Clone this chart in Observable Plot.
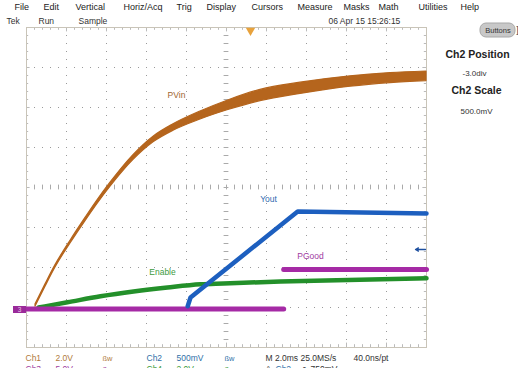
<!DOCTYPE html>
<html><head><meta charset="utf-8">
<script src="https://cdn.jsdelivr.net/npm/d3@7"></script>
<script src="https://cdn.jsdelivr.net/npm/@observablehq/plot@0.6"></script>
<style>
html,body{margin:0;padding:0;background:#fff;overflow:hidden;}
#chart{width:518px;height:368px;overflow:hidden;}
</style></head><body><div id="chart"></div>
<script>
// ---- Trace data, in screen divisions (x: 0..10 div at 2.0 ms/div, y: 0..8 div) ----
// PVin (Ch1) noisy band: lower / upper envelope
const pvinX  = [0.225, 0.475, 0.725, 1.1, 1.475, 1.775, 2.1, 2.675, 3.175, 3.675, 4.35, 5.025, 5.85, 6.85, 8.1, 9.1, 10];
const pvinLo = [1.02, 1.52, 2.00, 2.60, 3.16, 3.59, 4.02, 4.69, 5.13, 5.42, 5.70, 5.93, 6.16, 6.34, 6.52, 6.61, 6.66];
const pvinHi = [1.08, 1.58, 2.06, 2.67, 3.24, 3.68, 4.12, 4.81, 5.27, 5.58, 5.90, 6.17, 6.44, 6.62, 6.78, 6.86, 6.90];
// Enable (Ch4)
const enableX = [0.3, 1.025, 1.85, 2.675, 3.525, 4.35, 4.925, 6.35, 10];
const enableY = [1.00, 1.13, 1.28, 1.40, 1.50, 1.58, 1.60, 1.65, 1.73];
// Vout (Ch2)
const youtX = [4.03, 4.1, 6.78, 10];
const youtY = [1.03, 1.25, 3.40, 3.35];
// PGood (Ch3): two levels
const pgoodX   = [0, 6.43, 6.43, 10];
const pgoodY   = [0.96, 0.96, 1.95, 1.95];
const pgoodSeg = ["low", "low", "high", "high"];

// Trace labels
const traceNames  = ["PVin", "Enable", "Yout", "PGood"];
const traceLabelX = [3.75, 3.4, 6.05, 7.1];
const traceLabelY = [6.3, 1.88, 3.7, 2.28];
const traceColors = ["#b5651d", "#23902a", "#1d5fbf", "#a52aa5"];
const labelColors = ["#a06530", "#3c9a3c", "#2f6bb0", "#a03aa0"];

// Screen chrome text
const menuLabels = ["File","Edit","Vertical","Horiz/Acq","Trig","Display","Cursors","Measure","Masks","Math","Utilities","Help"];
const menuPx     = [14, 43, 75, 123, 176, 206, 251, 297, 343, 378, 418, 460];
const statusRow1 = ["Ch1","2.0V","\u00dfw","Ch2","500mV","\u00dfw","M 2.0ms 25.0MS/s","40.0ns/pt"];
const statusRow2 = ["Ch3","5.0V","\u00dfw","Ch4","2.0V","\u00dfw","A","Ch2","\u2197","750mV"];

// ---- layout helpers (pixel -> division) ----
const X = px => (px - 26) / 40;
const Y = py => (347 - py) / 40;

const pvin = pvinX.map((x, i) => ({x, lo: pvinLo[i], hi: pvinHi[i]}));
const enable = enableX.map((x, i) => ({x, y: enableY[i]}));
const yout = youtX.map((x, i) => ({x, y: youtY[i]}));
const pgood = pgoodX.map((x, i) => ({x, y: pgoodY[i], s: pgoodSeg[i]}));
const labels = traceNames.map((t, i) => ({t, x: traceLabelX[i], y: traceLabelY[i], c: labelColors[i]}));

const leftTexts = [
  ...menuLabels.map((t, i) => ({t, px: menuPx[i], py: 7, size: 9, fill: "#222"})),
  {t: "Tek", px: 6, py: 21, size: 8.5, fill: "#333"},
  {t: "Run", px: 38, py: 21, size: 8.5, fill: "#333"},
  {t: "Sample", px: 78, py: 21, size: 8.5, fill: "#333"},
  {t: "06 Apr 15 15:26:15", px: 328, py: 21, size: 8.5, fill: "#333"},
  {t: statusRow1[0], px: 25, py: 358, size: 8.5, fill: "#b07a3a"},
  {t: statusRow1[1], px: 55, py: 358, size: 8.5, fill: "#b07a3a"},
  {t: statusRow1[2], px: 102, py: 358, size: 7.5, fill: "#b07a3a"},
  {t: statusRow1[3], px: 146, py: 358, size: 8.5, fill: "#2f70a8"},
  {t: statusRow1[4], px: 176, py: 358, size: 8.5, fill: "#2f70a8"},
  {t: statusRow1[5], px: 224, py: 358, size: 7.5, fill: "#2f70a8"},
  {t: statusRow1[6], px: 265, py: 358, size: 8.5, fill: "#333"},
  {t: statusRow1[7], px: 353, py: 358, size: 8.5, fill: "#333"},
  {t: statusRow2[0], px: 25, py: 369, size: 8.5, fill: "#a040a0"},
  {t: statusRow2[1], px: 55, py: 369, size: 8.5, fill: "#a040a0"},
  {t: statusRow2[2], px: 102, py: 369, size: 7.5, fill: "#a040a0"},
  {t: statusRow2[3], px: 146, py: 369, size: 8.5, fill: "#3a9a3a"},
  {t: statusRow2[4], px: 176, py: 369, size: 8.5, fill: "#3a9a3a"},
  {t: statusRow2[5], px: 224, py: 369, size: 7.5, fill: "#3a9a3a"},
  {t: statusRow2[6], px: 265, py: 369, size: 8.5, fill: "#333"},
  {t: statusRow2[7], px: 275, py: 369, size: 8.5, fill: "#2f70a8"},
  {t: statusRow2[8], px: 299, py: 369, size: 8, fill: "#333"},
  {t: statusRow2[9], px: 310, py: 369, size: 8.5, fill: "#333"}
];
const panelTitles = [
  {t: "Ch2 Position", px: 477, py: 54},
  {t: "Ch2 Scale", px: 476, py: 90}
];
const panelValues = [
  {t: "-3.0div", px: 474, py: 73},
  {t: "500.0mV", px: 476, py: 111}
];

const majorX = d3.range(1, 10), majorY = d3.range(1, 8);
const minorX = d3.range(0, 10.001, 0.2), minorY = d3.range(0, 8.001, 0.2);
const isMajor = d => Math.abs(d - Math.round(d)) < 1e-6;
const gridColor = "#9a9a9a";

const plot = Plot.plot({
  width: 518, height: 368,
  marginLeft: 26, marginRight: 92, marginTop: 27, marginBottom: 21,
  x: {domain: [0, 10], axis: null},
  y: {domain: [0, 8], axis: null},
  style: {fontFamily: "'Liberation Sans', Arial, sans-serif", background: "white", overflow: "hidden"},
  marks: [
    // graticule
    Plot.ruleX(majorX, {x: d => d, stroke: gridColor, strokeDasharray: "1,7"}),
    Plot.ruleY(majorY, {y: d => d, stroke: gridColor, strokeDasharray: "1,7"}),
    Plot.ruleX(minorX, {x: d => d, y1: () => 4 - 0.06, y2: () => 4 + 0.06, stroke: "#aaa"}),
    Plot.ruleY(minorY, {y: d => d, x1: () => 5 - 0.06, x2: () => 5 + 0.06, stroke: "#aaa"}),
    Plot.ruleX(minorX, {x: d => d, y1: () => 8, y2: d => 8 - (isMajor(d) ? 0.11 : 0.07), stroke: "#bbb"}),
    Plot.ruleX(minorX, {x: d => d, y1: () => 0, y2: d => (isMajor(d) ? 0.11 : 0.07), stroke: "#bbb"}),
    Plot.ruleY(minorY, {y: d => d, x1: () => 0, x2: d => (isMajor(d) ? 0.09 : 0.055), stroke: "#bbb"}),
    Plot.ruleY(minorY, {y: d => d, x1: () => 10, x2: d => 10 - (isMajor(d) ? 0.09 : 0.055), stroke: "#bbb"}),
    Plot.frame({stroke: "#c9c4b8"}),
    // traces
    Plot.areaY(pvin, {x: "x", y1: "lo", y2: "hi", curve: "monotone-x", fill: traceColors[0], stroke: traceColors[0], strokeWidth: 1.2}),
    Plot.line(enable, {x: "x", y: "y", curve: "monotone-x", stroke: traceColors[1], strokeWidth: 4.5}),
    Plot.line(pgood, {x: "x", y: "y", z: "s", stroke: traceColors[3], strokeWidth: 5}),
    Plot.line(yout, {x: "x", y: "y", stroke: traceColors[2], strokeWidth: 4.5}),
    // trace labels
    Plot.text(labels, {x: "x", y: "y", text: "t", fill: "c", fontSize: 8.5}),
    // markers: trigger position, trigger level, channel ground marker
    Plot.dot([5.6], {x: d => d, y: () => 8, dy: 3, symbol: "triangle", rotate: 180, r: 3.5, fill: "#e8a23c"}),
    Plot.arrow([0], {x1: () => X(425), y1: () => Y(249), x2: () => X(415), y2: () => Y(249), stroke: "#1d4f9f", strokeWidth: 1.3, headLength: 5, insetEnd: 0}),
    Plot.rect([0], {x1: () => X(13), x2: () => 0, y1: () => Y(306), y2: () => Y(313), fill: "#9a2a9a"}),
    Plot.text(["3"], {x: () => X(19), y: () => Y(309.5), text: d => d, fill: "#e8c8e8", fontSize: 6.5}),
    // buttons widget
    Plot.rect([0], {x1: () => X(480), x2: () => X(515), y1: () => Y(23), y2: () => Y(37), rx: 6, fill: "#c8c8c8", stroke: "#a8a8a8"}),
    Plot.text(["Buttons"], {x: () => X(497.5), y: () => Y(30), text: d => d, fontSize: 7.5, fill: "#333"}),
    Plot.text(["]"], {x: () => X(517), y: () => Y(30), text: d => d, fontSize: 9, fill: "#333"}),
    // screen chrome text
    Plot.text(leftTexts, {x: d => X(d.px), y: d => Y(d.py), text: "t", fill: "fill", fontSize: d => d.size, textAnchor: "start"}),
    Plot.text(panelTitles, {x: d => X(d.px), y: d => Y(d.py), text: "t", fill: "#222", fontSize: 10.5, fontWeight: "bold", textAnchor: "middle"}),
    Plot.text(panelValues, {x: d => X(d.px), y: d => Y(d.py), text: "t", fill: "#333", fontSize: 8, textAnchor: "middle"})
  ]
});
document.getElementById("chart").appendChild(plot);
</script></body></html>
